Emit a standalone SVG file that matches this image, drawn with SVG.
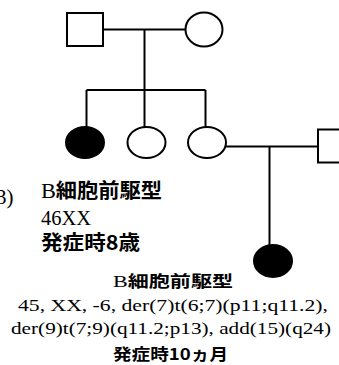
<svg xmlns="http://www.w3.org/2000/svg" width="339" height="365" viewBox="0 0 339 365">
<style>
.ln{stroke:#000;stroke-width:2;fill:none}
.open{fill:#fff;stroke:#000;stroke-width:2}
.aff{fill:#000;stroke:#000;stroke-width:2}
.lat{font-family:"Liberation Serif","Noto Sans CJK JP",serif;font-size:21px;fill:#000}
.cjk{font-family:"Noto Sans CJK JP",sans-serif;font-weight:bold;fill:#000}
</style>
<rect width="339" height="365" fill="#fff"/>
<g id="connectors">
<path class="ln" d="M103,29.5H186"/>
<path class="ln" d="M144.5,29.5V90"/>
<path class="ln" d="M86.5,90H205.5"/>
<path class="ln" d="M86.5,90V128"/>
<path class="ln" d="M144.5,90V127"/>
<path class="ln" d="M205.5,90V127"/>
<path class="ln" d="M226,146.5H318"/>
<path class="ln" d="M269.5,146.5V246"/>
</g>
<g id="father"><rect class="open" x="67" y="13" width="36" height="33"/></g>
<g id="mother"><ellipse class="open" cx="204" cy="29.5" rx="18.5" ry="17"/></g>
<g id="child1"><ellipse class="aff" cx="85" cy="142.5" rx="19" ry="15.5"/></g>
<g id="child2"><ellipse class="open" cx="146.5" cy="142.5" rx="19" ry="15.5"/></g>
<g id="child3"><ellipse class="open" cx="207" cy="142.5" rx="19" ry="15.5"/></g>
<g id="spouse"><rect class="open" x="318" y="129.5" width="36" height="33"/></g>
<g id="grandchild"><ellipse class="aff" cx="273" cy="261" rx="19" ry="16"/></g>
<g id="label-left">
<text class="lat" x="13.5" y="204" text-anchor="end">3)</text>
</g>
<g id="label-child1">
<text class="lat" x="41" y="198" textLength="121" lengthAdjust="spacingAndGlyphs">B<tspan class="cjk" font-size="20">細胞前駆型</tspan></text>
<text class="lat" x="41" y="225" textLength="50" lengthAdjust="spacingAndGlyphs">46XX</text>
<text class="cjk" font-size="20" x="41" y="250" textLength="99" lengthAdjust="spacingAndGlyphs">発症時8歳</text>
</g>
<g id="label-grandchild">
<text class="lat" transform="translate(173,287) scale(1,0.82)" text-anchor="middle" textLength="120" lengthAdjust="spacingAndGlyphs">B<tspan class="cjk" font-size="20">細胞前駆型</tspan></text>
<text class="lat" transform="translate(173,311) scale(1,0.82)" text-anchor="middle" textLength="310" lengthAdjust="spacingAndGlyphs">45, XX, -6, der(7)t(6;7)(p11;q11.2),</text>
<text class="lat" transform="translate(171,334) scale(1,0.82)" text-anchor="middle" textLength="320" lengthAdjust="spacingAndGlyphs">der(9)t(7;9)(q11.2;p13), add(15)(q24)</text>
<text class="cjk" font-size="20" transform="translate(170.5,360) scale(1,0.82)" text-anchor="middle" textLength="115" lengthAdjust="spacingAndGlyphs">発症時10ヵ月</text>
</g>
</svg>
